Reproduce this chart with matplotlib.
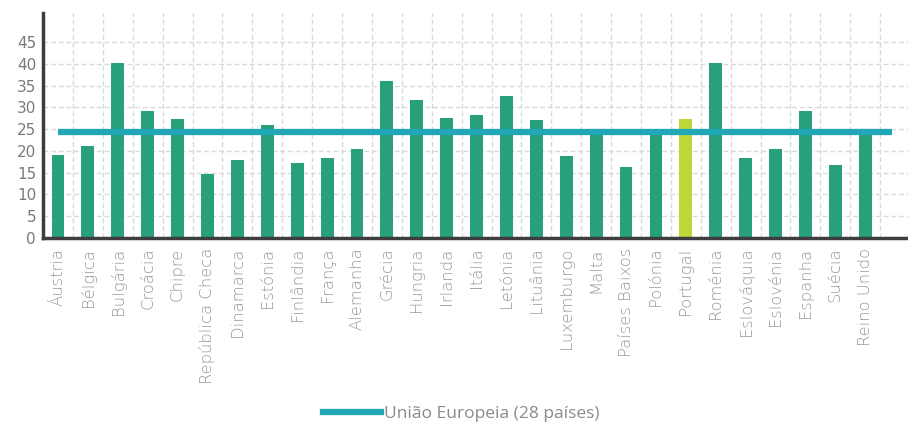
import numpy as np
import matplotlib
matplotlib.use("Agg")
import matplotlib.pyplot as plt
from matplotlib.lines import Line2D

# dados
paises = ["Áustria", "Bélgica", "Bulgária", "Croácia", "Chipre", "República Checa",
          "Dinamarca", "Estónia", "Finlândia", "França", "Alemanha", "Grécia",
          "Hungria", "Irlanda", "Itália", "Letónia", "Lituânia", "Luxemburgo",
          "Malta", "Países Baixos", "Polónia", "Portugal", "Roménia", "Eslováquia",
          "Eslovénia", "Espanha", "Suécia", "Reino Unido"]
valores = [19.1, 21.1, 40.1, 29.2, 27.3, 14.7, 17.9, 25.9, 17.2, 18.4, 20.4, 36.0,
           31.7, 27.5, 28.2, 32.6, 27.1, 18.8, 24.2, 16.3, 24.3, 27.3, 40.1, 18.4,
           20.4, 29.2, 16.8, 24.3]
media_ue = 24.4
legenda = "União Europeia (28 países)"
yticks = [0, 5, 10, 15, 20, 25, 30, 35, 40, 45]

verde = "#27a07b"
amarelo = "#bfd73b"
azul = "#22a7b6"
cinza = "#8a8a8a"

plt.rcParams['font.family'] = ['DejaVu Sans']

fig = plt.figure(figsize=(9.08, 4.24), dpi=100)
ax = fig.add_axes([0.0474, 0.4387, 0.9526, 0.5307])

x = np.arange(len(paises))
cores = [amarelo if p == "Portugal" else verde for p in paises]
ax.bar(x, valores, width=0.43, color=cores, zorder=2)
ax.plot([0, 27.9], [media_ue, media_ue], color=azul, lw=4.5, zorder=3,
        solid_capstyle='butt')

ax.set_xlim(-0.5, 28.43)
ax.set_ylim(0, 51.65)
ax.set_yticks(yticks)
ax.set_xticks(x)
ax.set_xticklabels(paises, rotation=90, fontsize=11.8, color="#9a9a9a",
                   fontweight='light')
ax.tick_params(axis='y', length=0, labelsize=11, labelcolor="#7a7a7a", pad=5)
ax.tick_params(axis='x', length=0, pad=7)

# grelha tracejada
for yv in yticks[1:]:
    ax.axhline(yv, color="#d9d9d9", lw=1, ls=(0, (3.5, 2)), zorder=1)
for xv in np.arange(0.5, 28, 1):
    ax.axvline(xv, color="#d9d9d9", lw=1, ls=(0, (3.5, 2)), zorder=1)

for s in ["top", "right"]:
    ax.spines[s].set_visible(False)
for s in ["left", "bottom"]:
    ax.spines[s].set_color("#3d3d40")
    ax.spines[s].set_linewidth(2.5)

h = Line2D([], [], color=azul, lw=4.5)
fig.legend([h], [legenda], loc="lower center", bbox_to_anchor=(0.508, -0.032),
           frameon=False, prop={'family': 'Open Sans', 'size': 12.5},
           labelcolor=cinza, handlelength=3.35, handletextpad=0.15)

fig.savefig("out.png", dpi=100)
